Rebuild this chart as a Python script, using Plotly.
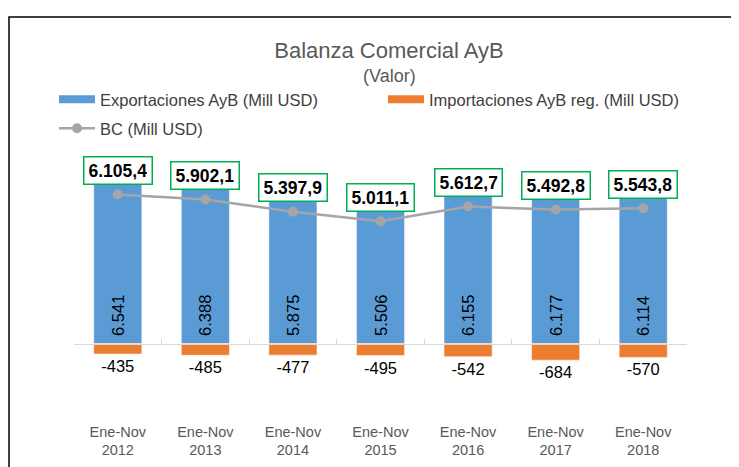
import plotly.graph_objects as go

# ---------------- data ----------------
years = ["2012", "2013", "2014", "2015", "2016", "2017", "2018"]
period = "Ene-Nov"
exports = [6541, 6388, 5875, 5506, 6155, 6177, 6114]          # Exportaciones AyB (Mill USD)
imports = [-435, -485, -477, -495, -542, -684, -570]          # Importaciones AyB reg. (Mill USD)
balance = [6105.4, 5902.1, 5397.9, 5011.1, 5612.7, 5492.8, 5543.8]  # BC (Mill USD)

categories = [f"{period}<br>{y}" for y in years]


def fmt_int(v):
    return f"{v:,}".replace(",", ".")


def fmt_dec(v):
    s = f"{v:,.1f}"
    return s.replace(",", "#").replace(".", ",").replace("#", ".")


FONT = "Liberation Sans, Arial, sans-serif"
BLUE = "#5B9BD5"
ORANGE = "#ED7D31"
GREY = "#A5A5A5"
GREEN = "#00B050"

W, H = 739, 467
OFF = 8  # page body margin: figure px = screen px - OFF
# plot area (figure px)
PX0, PX1, PY0, PY1 = 74 - OFF, 687 - OFF, 150 - OFF, 418 - OFF
ML, MR, MT, MB = PX0, W - PX1, PY0, H - PY1
PW, PH = PX1 - PX0, PY1 - PY0
Y_RANGE = [-3053, 7930]
zero_pos = (0 - Y_RANGE[0]) / (Y_RANGE[1] - Y_RANGE[0])


def paper_x(sx):
    return (sx - OFF - PX0) / PW


def paper_y(sy):
    return (PY1 - (sy - OFF)) / PH


fig = go.Figure()

fig.add_trace(go.Bar(
    x=categories, y=exports, name="Exportaciones AyB (Mill USD)",
    marker=dict(color=BLUE, line=dict(color="rgba(255,255,255,0.55)", width=1)),
    width=0.55,
    text=["\u00a0" + fmt_int(v) for v in exports], textposition="inside",
    insidetextanchor="start", textangle=-90,
    textfont=dict(family=FONT, size=16.5, color="#000000"),
    showlegend=False, hoverinfo="skip",
))
fig.add_trace(go.Bar(
    x=categories, y=imports, name="Importaciones AyB reg. (Mill USD)",
    marker=dict(color=ORANGE, line=dict(color="rgba(255,255,255,0.55)", width=1)),
    width=0.55,
    text=[fmt_int(v) for v in imports], textposition="outside",
    textangle=0, cliponaxis=False,
    textfont=dict(family=FONT, size=16.5, color="#000000"),
    showlegend=False, hoverinfo="skip",
))
fig.add_trace(go.Scatter(
    x=categories, y=balance, name="BC (Mill USD)", mode="lines+markers",
    line=dict(color=GREY, width=2.5), marker=dict(color=GREY, size=10),
    legend="legend2", hoverinfo="skip",
))
# legend entries for bars (wide flat swatches like the original)
fig.add_trace(go.Scatter(
    x=[None], y=[None], mode="lines", name="Exportaciones AyB (Mill USD)",
    line=dict(color=BLUE, width=8), legendrank=1,
))
fig.add_trace(go.Scatter(
    x=[None], y=[None], mode="lines", name="Importaciones AyB reg. (Mill USD)",
    line=dict(color=ORANGE, width=8), legendrank=2,
))
# helper trace for the zero baseline axis
fig.add_trace(go.Scatter(
    x=categories, y=[None] * len(categories), xaxis="x2", showlegend=False,
    hoverinfo="skip", mode="lines",
))

annotations = []
for c, v in zip(categories, balance):
    annotations.append(dict(
        x=c, y=v, xref="x", yref="y", text=f"<b>{fmt_dec(v)}</b>",
        showarrow=False, yshift=24,
        font=dict(family=FONT, size=17.5, color="#000000"),
        bgcolor="#FFFFFF", bordercolor=GREEN, borderwidth=1.5, borderpad=4,
        height=18,
    ))
annotations.append(dict(
    text="(Valor)", xref="paper", yref="paper",
    x=paper_x(389), y=paper_y(76),
    xanchor="center", yanchor="middle", showarrow=False,
    font=dict(family=FONT, size=18, color="#595959"),
))

legend_common = dict(
    orientation="h", xanchor="left", yanchor="top",
    font=dict(family=FONT, size=16.5, color="#404040"),
    itemwidth=36, bgcolor="rgba(0,0,0,0)",
)

fig.update_layout(
    width=W, height=H,
    margin=dict(l=ML, r=MR, t=MT, b=MB),
    paper_bgcolor="#FFFFFF", plot_bgcolor="#FFFFFF",
    barmode="relative",
    title=dict(text="Balanza Comercial AyB", x=(389 - OFF) / W, xanchor="center",
               xref="container", yref="container", y=1 - (50 - OFF) / H,
               yanchor="middle",
               font=dict(family=FONT, size=22, color="#595959")),
    legend=dict(**legend_common, x=paper_x(54), y=paper_y(82),
                entrywidth=278, traceorder="normal"),
    legend2=dict(**legend_common, x=paper_x(54), y=paper_y(111)),
    xaxis=dict(type="category", categoryarray=categories, range=[-0.5, 6.5],
               showline=False, ticks="", showgrid=False, zeroline=False,
               ticklabelstandoff=3,
               tickfont=dict(family=FONT, size=14.5, color="#595959")),
    xaxis2=dict(type="category", categoryarray=categories, range=[-0.5, 6.5],
                overlaying="x", anchor="free", position=zero_pos,
                showline=True, linecolor="#D9D9D9", linewidth=1,
                ticks="inside", ticklen=5, tickcolor="#D9D9D9", tickson="boundaries",
                showticklabels=False, showgrid=False, zeroline=False),
    yaxis=dict(range=Y_RANGE, visible=False, showgrid=False, zeroline=False),
    annotations=annotations,
    shapes=[dict(type="rect", xref="paper", yref="paper",
                 x0=paper_x(9), x1=1.3,
                 y0=-0.5, y1=paper_y(17),
                 line=dict(color="#000000", width=1.5), fillcolor="rgba(0,0,0,0)",
                 layer="below")],
    hovermode=False,
)

fig.write_html("out.html")
